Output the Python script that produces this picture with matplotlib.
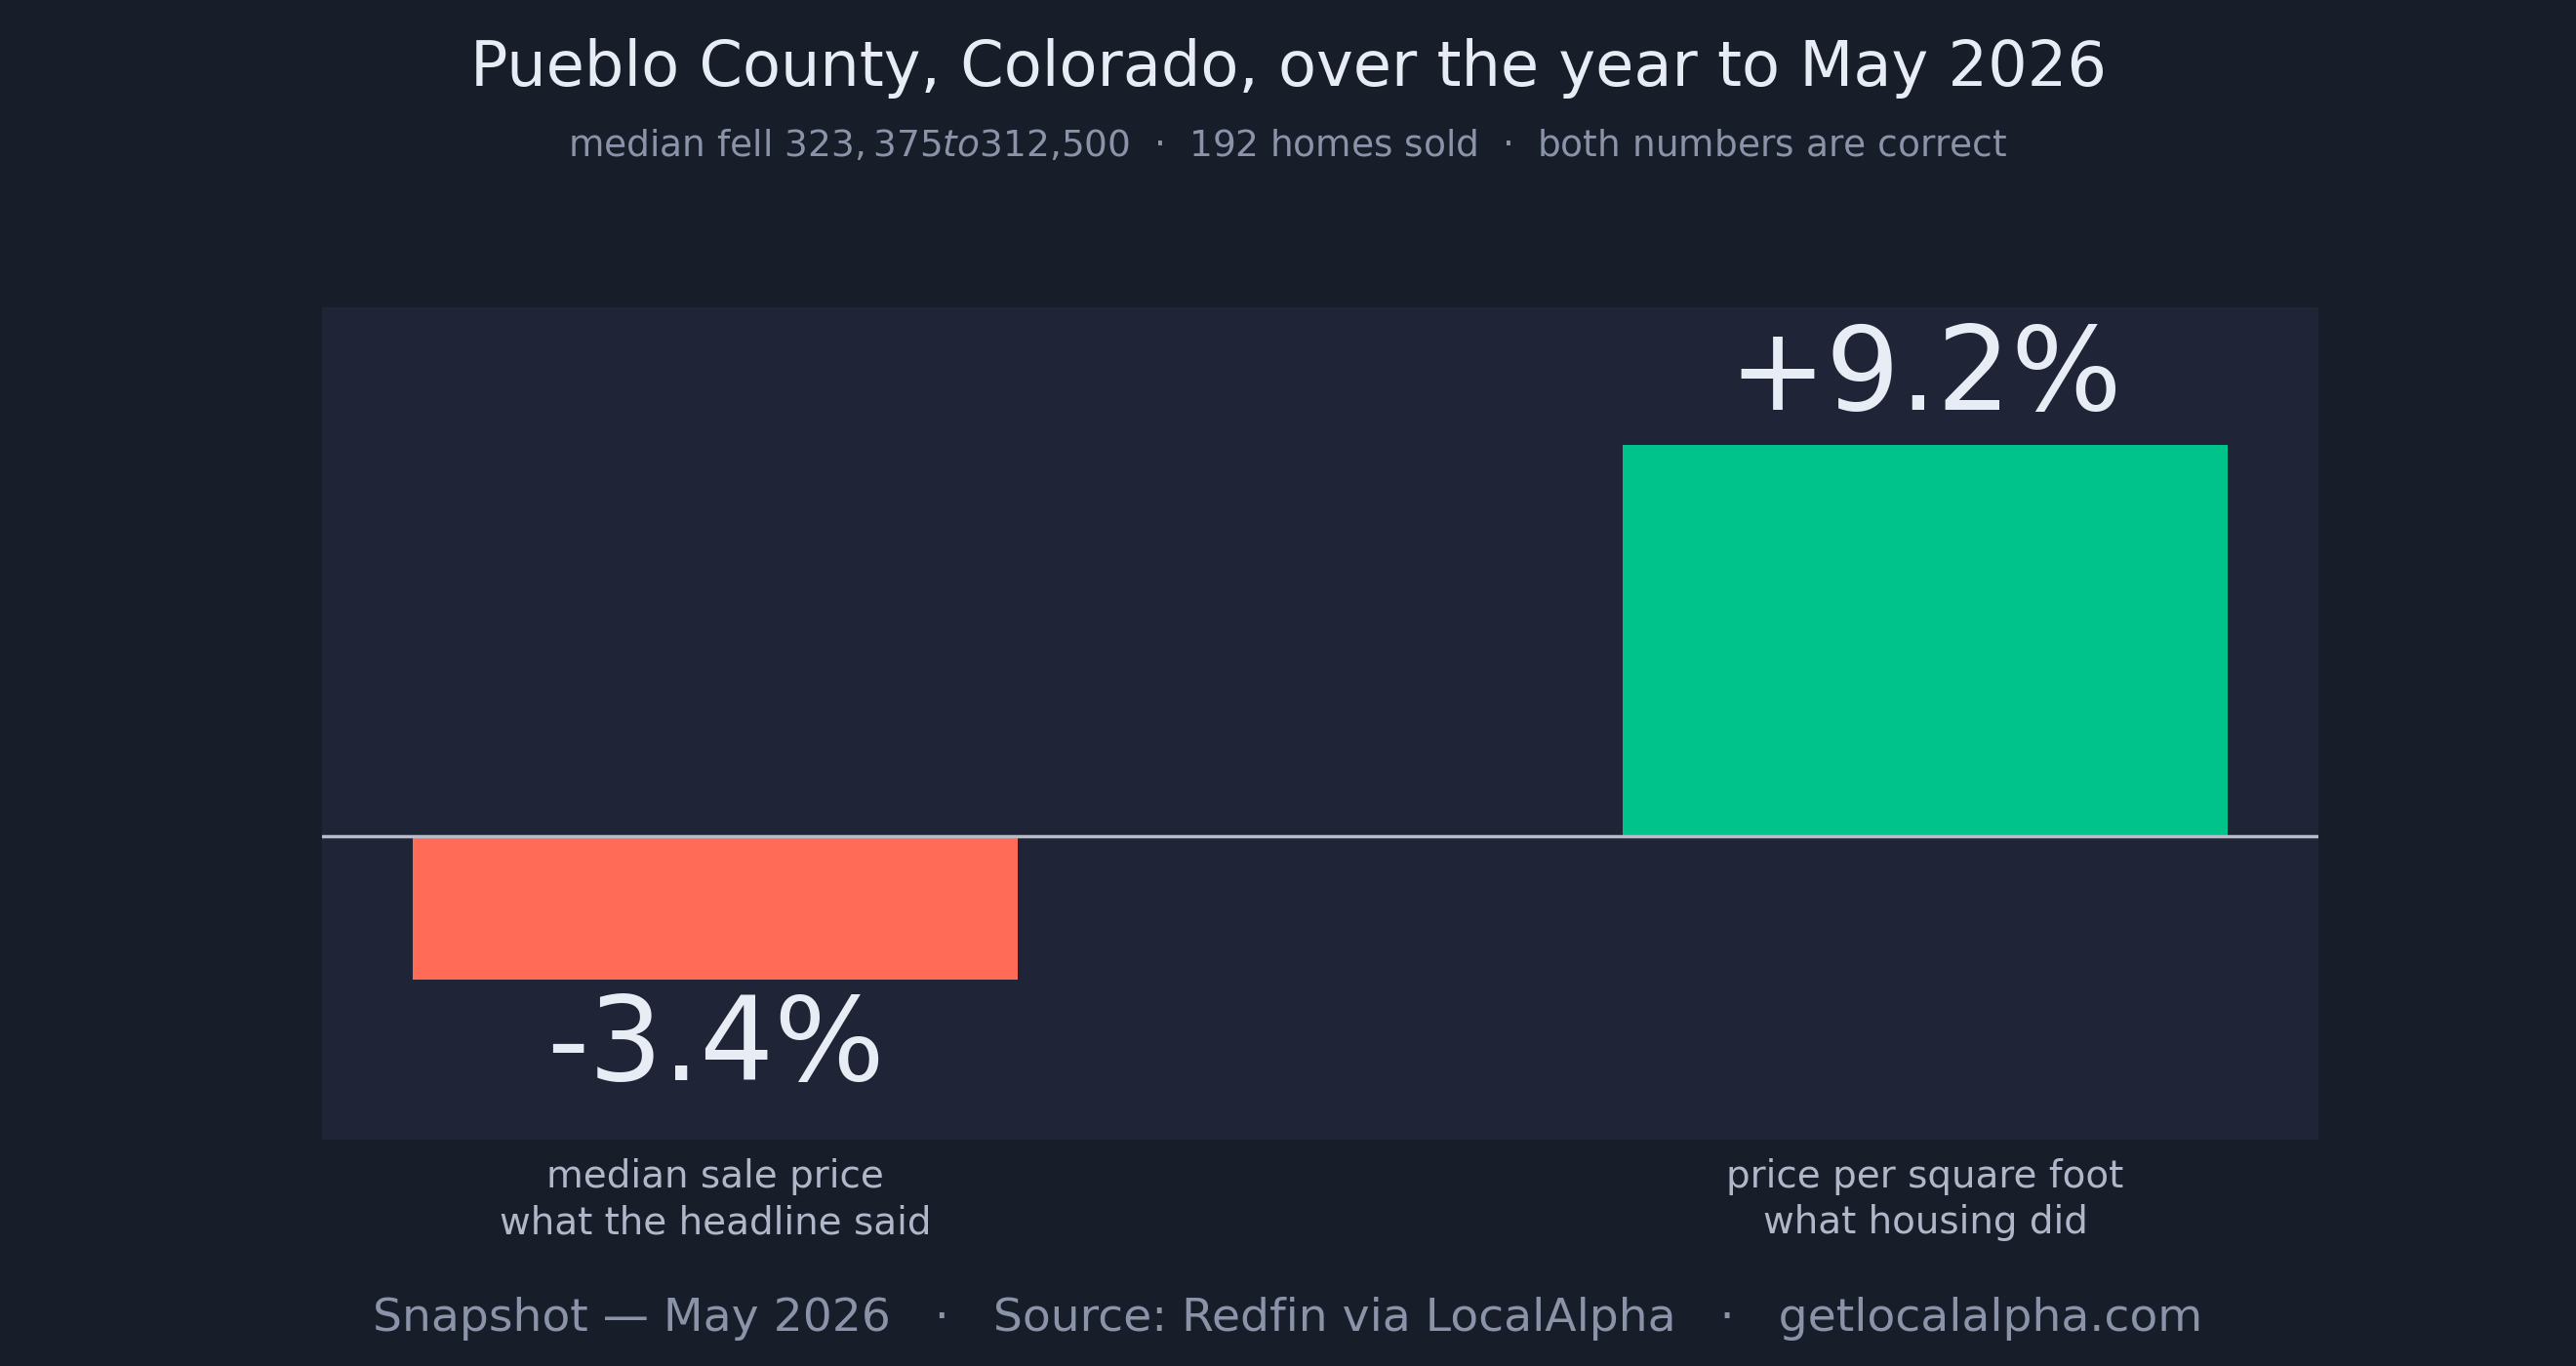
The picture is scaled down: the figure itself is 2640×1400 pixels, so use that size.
import matplotlib
matplotlib.use('Agg')
import matplotlib.pyplot as plt

categories = ["median sale price\nwhat the headline said",
              "price per square foot\nwhat housing did"]
changes = [-3.4, 9.2]
bar_colors = ["#ff6b57", "#00c28b"]

BG = "#181d2a"
PANEL = "#1f2437"
TEXT = "#e8ecf4"

fig = plt.figure(figsize=(26.4, 14), dpi=100, facecolor=BG)
ax = fig.add_axes([0.125, 0.166, 0.775, 0.609], facecolor=PANEL)

x = list(range(len(changes)))
ax.bar(x, changes, width=0.5, color=bar_colors, zorder=2)
ax.axhline(0, color="#b8bcc8", lw=2.5, zorder=3)
ax.set_xlim(-0.325, 1.325)
ax.set_ylim(-7.15, 12.45)

for xi, v in zip(x, changes):
    label = f"{v:+.1f}%"
    if v >= 0:
        ax.annotate(label, (xi, v), xytext=(0, 8), textcoords="offset points",
                    ha="center", va="bottom", fontsize=86, color=TEXT)
    else:
        ax.annotate(label, (xi, v), xytext=(0, -8), textcoords="offset points",
                    ha="center", va="top", fontsize=86, color=TEXT)

ax.set_xticks(x)
ax.set_xticklabels(categories, fontsize=28, color="#b0b7c8", linespacing=1.3)
ax.tick_params(axis="x", length=0, pad=14)
ax.set_yticks([])
for s in ax.spines.values():
    s.set_visible(False)

fig.text(0.5, 0.95, "Pueblo County, Colorado, over the year to May 2026",
         ha="center", va="center", fontsize=46, color=TEXT)
fig.text(0.5, 0.893,
         "median fell $323,375 to $312,500  \u00b7  192 homes sold  \u00b7  both numbers are correct",
         ha="center", va="center", fontsize=27, color="#8a93a8")
fig.text(0.5, 0.035,
         "Snapshot \u2014 May 2026   \u00b7   Source: Redfin via LocalAlpha   \u00b7   getlocalalpha.com",
         ha="center", va="center", fontsize=34, color="#8a93a8")

fig.savefig("out.png", dpi=100, facecolor=BG)
